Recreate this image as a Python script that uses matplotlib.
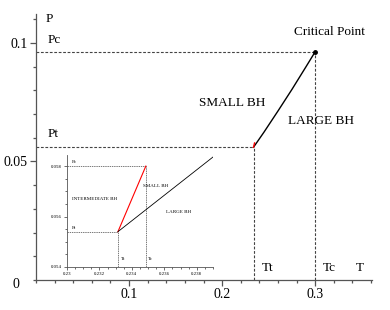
import numpy as np
import matplotlib.pyplot as plt
from matplotlib.ticker import MultipleLocator

# main coexistence curve (small / large BH)
T_curve = [0.2337, 0.2450, 0.2600, 0.2750, 0.2900, 0.3000]
P_curve = [0.0560, 0.0624, 0.0713, 0.0804, 0.0899, 0.0963]
T_red = [0.2337, 0.2348]
P_red = [0.0560, 0.0578]
Tt, Pt = 0.2337, 0.0560
Tc, Pc = 0.3000, 0.0963

# inset, zoom around the triple point
Tt_in, Pt_in = 0.23314, 0.0554
Tc_in, Pc_in = 0.23486, 0.0580
T_in_red = [Tt_in, Tc_in]
P_in_red = [Pt_in, Pc_in]
T_in_black = [Tt_in, 0.2390]
P_in_black = [Pt_in, 0.05836]

serif = ['Liberation Serif', 'DejaVu Serif']
plt.rcParams['font.family'] = serif
axc = '#555555'


def style_axes(ax, lw):
  # only the left and bottom spines, like the maple plot
  for s in ['top', 'right']:
    ax.spines[s].set_visible(False)
  for s in ['left', 'bottom']:
    ax.spines[s].set_color(axc)
    ax.spines[s].set_linewidth(lw)
  ax.tick_params(which='both', color=axc, width=lw)


fig = plt.figure(figsize=(3.9, 3.1), dpi=100)
ax = fig.add_axes([36 / 390, 1 - 280 / 310, 336 / 390, 266 / 310])
ax.set_xlim(0, 0.361)
ax.set_ylim(0, 0.1122)
style_axes(ax, 0.9)
ax.xaxis.set_major_locator(MultipleLocator(0.1))
ax.xaxis.set_minor_locator(MultipleLocator(0.02))
ax.yaxis.set_major_locator(MultipleLocator(0.05))
ax.yaxis.set_minor_locator(MultipleLocator(0.01))
ax.tick_params(which='major', length=4, labelsize=10, pad=2)
ax.tick_params(which='minor', length=2)
ax.set_xticks([0.1, 0.2, 0.3])
ax.set_xticklabels(['0.1', '0.2', '0.3'])
ax.set_yticks([0.05, 0.1])
ax.set_yticklabels(['0.05', '0.1'])
ax.text(-0.022, -0.002, '0', fontsize=10, ha='center', va='center')

dash = dict(color='#444444', lw=0.8, ls=(0, (2.5, 1.5)))
ax.plot([0, Tc], [Pc, Pc], **dash)
ax.plot([Tc, Tc], [0, Pc], **dash)
ax.plot([0, Tt], [Pt, Pt], **dash)
ax.plot([Tt, Tt], [0, Pt], **dash)
ax.plot(T_curve, P_curve, color='black', lw=1.0)
ax.plot(T_red, P_red, color='red', lw=1.0)
ax.plot([Tc], [Pc], 'o', color='black', ms=2.5)

fs = 9.5
ax.text(0.010, 0.110, 'P', fontsize=fs, va='center')
ax.text(0.012, 0.1012, 'Pc', fontsize=fs, va='center')
ax.text(0.012, 0.0617, 'Pt', fontsize=fs, va='center')
ax.text(0.315, 0.1045, 'Critical Point', fontsize=fs, ha='center', va='center')
ax.text(0.211, 0.0745, 'SMALL BH', fontsize=fs, ha='center', va='center')
ax.text(0.306, 0.0670, 'LARGE BH', fontsize=fs, ha='center', va='center')
ax.text(0.243, 0.0050, 'Tt', fontsize=fs, va='center')
ax.text(0.308, 0.0050, 'Tc', fontsize=fs, va='center')
ax.text(0.344, 0.0050, 'T', fontsize=fs, va='center')

# inset
ins = fig.add_axes([67 / 390, 1 - 267 / 310, 146 / 390, 112 / 310])
ins.set_xlim(0.23, 0.239)
ins.set_ylim(0.054, 0.05844)
ins.patch.set_alpha(0)
style_axes(ins, 0.6)
ins.xaxis.set_major_locator(MultipleLocator(0.002))
ins.xaxis.set_minor_locator(MultipleLocator(0.0005))
ins.yaxis.set_major_locator(MultipleLocator(0.002))
ins.yaxis.set_minor_locator(MultipleLocator(0.0005))
ins.tick_params(which='major', length=2.5, labelsize=3.5, pad=1)
ins.tick_params(which='minor', length=1.2)
ins.set_xticks([0.23, 0.232, 0.234, 0.236, 0.238])
ins.set_xticklabels(['0.23', '0.232', '0.234', '0.236', '0.238'])
ins.set_yticks([0.054, 0.056, 0.058])
ins.set_yticklabels(['0.054', '0.056', '0.058'])

dash_in = dict(color='#444444', lw=0.5, ls=(0, (2, 1.2)))
ins.plot([0.23, Tc_in], [Pc_in, Pc_in], **dash_in)
ins.plot([Tc_in, Tc_in], [0.054, Pc_in], **dash_in)
ins.plot([0.23, Tt_in], [Pt_in, Pt_in], **dash_in)
ins.plot([Tt_in, Tt_in], [0.054, Pt_in], **dash_in)
ins.plot(T_in_red, P_in_red, color='red', lw=0.8)
ins.plot(T_in_black, P_in_black, color='black', lw=0.6)

fsi = 3.6
ins.text(0.2303, 0.05815, 'Pc', fontsize=fsi, va='center')
ins.text(0.2303, 0.05555, 'Pt', fontsize=fsi, va='center')
ins.text(0.2303, 0.05670, 'INTERMEDIATE BH', fontsize=fsi, va='center')
ins.text(0.2347, 0.05722, 'SMALL BH', fontsize=fsi, va='center')
ins.text(0.2361, 0.05620, 'LARGE BH', fontsize=fsi, va='center')
ins.text(0.2333, 0.05430, 'Tt', fontsize=fsi, va='center')
ins.text(0.2350, 0.05430, 'Tc', fontsize=fsi, va='center')

fig.savefig('out.png', dpi=100)
